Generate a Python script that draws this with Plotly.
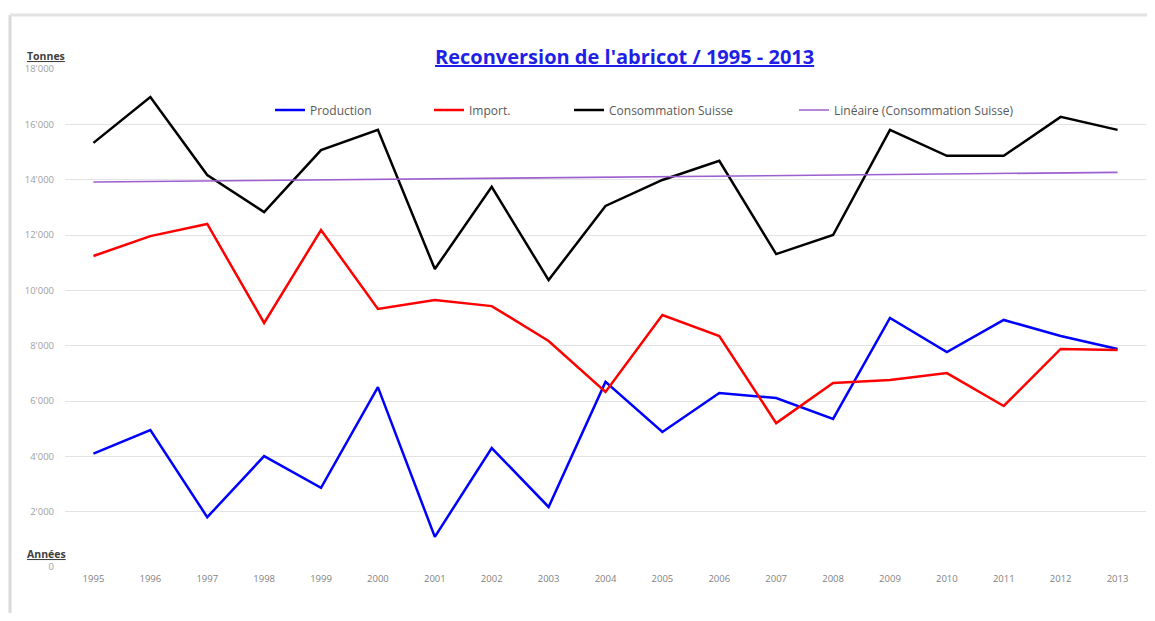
import numpy as np
import plotly.graph_objects as go

years = [str(y) for y in range(1995, 2014)]
production = [4100, 4950, 1800, 4010, 2860, 6500, 1090, 4300, 2170, 6690,
              4880, 6290, 6110, 5350, 9000, 7770, 8930, 8350, 7880]
importations = [11240, 11960, 12400, 8820, 12180, 9330, 9650, 9430, 8170, 6330,
                9110, 8350, 5200, 6650, 6760, 7010, 5820, 7880, 7840]
consommation = [15330, 16990, 14170, 12830, 15070, 15800, 10770, 13740, 10370, 13050,
                13990, 14680, 11310, 12000, 15800, 14860, 14860, 16270, 15800]
y_ticks = [0, 2000, 4000, 6000, 8000, 10000, 12000, 14000, 16000, 18000]
y_tick_labels = ["0", "2'000", "4'000", "6'000", "8'000", "10'000", "12'000",
                 "14'000", "16'000", "18'000"]

# linear trend of consumption (Excel "Linéaire")
idx = np.arange(len(years))
slope, intercept = np.polyfit(idx, consommation, 1)
trend = (slope * idx + intercept).tolist()

# page body has an 8px margin: work in window pixels and shift
OFF = 8
W, H = 1155 - 2 * OFF, 621 - 2 * OFF
L, T = 65 - OFF, 69 - OFF
R = W - (1146 - OFF)
B = H - (567 - OFF)
pw, ph = W - L - R, H - T - B

def px_x(p):
    return (p - OFF - L) / pw

def px_y(p):
    return (H - B - (p - OFF)) / ph

FONT = "Open Sans"
fig = go.Figure()
series = [
    ("Production", production, "#0000FF", 2.5, "legend", 270),
    ("Import.", importations, "#FF0000", 2.5, "legend2", 429),
    ("Consommation Suisse", consommation, "#000000", 2.5, "legend3", 569),
    ("Linéaire (Consommation Suisse)", trend, "#9B5FCF", 1.6, "legend4", 794),
]
for name, vals, col, w, lg, _ in series:
    fig.add_trace(go.Scatter(x=years, y=vals, mode="lines", name=name,
                             line=dict(color=col, width=w), legend=lg,
                             hoverinfo="x+y+name"))

legend_common = dict(orientation="h", yanchor="middle", xanchor="left",
                     bgcolor="rgba(0,0,0,0)", font=dict(family=FONT, size=12, color="#595959"),
                     xref="paper", yref="paper")
lay = {}
for name, vals, col, w, lg, xp in series:
    lay[lg] = dict(legend_common, x=px_x(xp), y=px_y(110))

fig.update_layout(
    width=W, height=H,
    margin=dict(l=L, r=R, t=T, b=B),
    paper_bgcolor="white", plot_bgcolor="white",
    showlegend=True,
    xaxis=dict(type="category", range=[-0.5, 18.5], showgrid=False, zeroline=False,
               showline=False, ticks="", ticklabelstandoff=4,
               tickfont=dict(family=FONT, size=9.5, color="#7F7F7F")),
    yaxis=dict(range=[0, 18000], tickvals=y_ticks, ticktext=y_tick_labels,
               showgrid=True, gridcolor="#E3E3E3", gridwidth=1, zeroline=False,
               showline=False, ticks="", ticklabelstandoff=10,
               tickfont=dict(family=FONT, size=9.5, color="#A0A0A0")),
    **lay,
)

fig.add_annotation(text="<b><u>Reconversion de l'abricot / 1995 - 2013</u></b>",
                   xref="paper", yref="paper", x=px_x(624), y=px_y(57),
                   xanchor="center", yanchor="middle", showarrow=False,
                   font=dict(family=FONT, size=20, color="#1F1FE6"))
fig.add_annotation(text="<b><u>Tonnes</u></b>", xref="paper", yref="paper",
                   x=px_x(25), y=px_y(56), xanchor="left", yanchor="middle",
                   showarrow=False, font=dict(family=FONT, size=10.5, color="#404040"))
fig.add_annotation(text="<b><u>Années</u></b>", xref="paper", yref="paper",
                   x=px_x(25), y=px_y(554), xanchor="left", yanchor="middle",
                   showarrow=False, font=dict(family=FONT, size=10.5, color="#404040"))

# frame (shadowed border)
fig.add_shape(type="line", xref="paper", yref="paper", x0=px_x(10), x1=px_x(10),
              y0=px_y(15), y1=px_y(613), line=dict(color="#D9D9D9", width=3), layer="below")
fig.add_shape(type="line", xref="paper", yref="paper", x0=px_x(10), x1=px_x(1147),
              y0=px_y(15), y1=px_y(15), line=dict(color="#E3E3E3", width=3), layer="below")

fig.write_html("out.html")
